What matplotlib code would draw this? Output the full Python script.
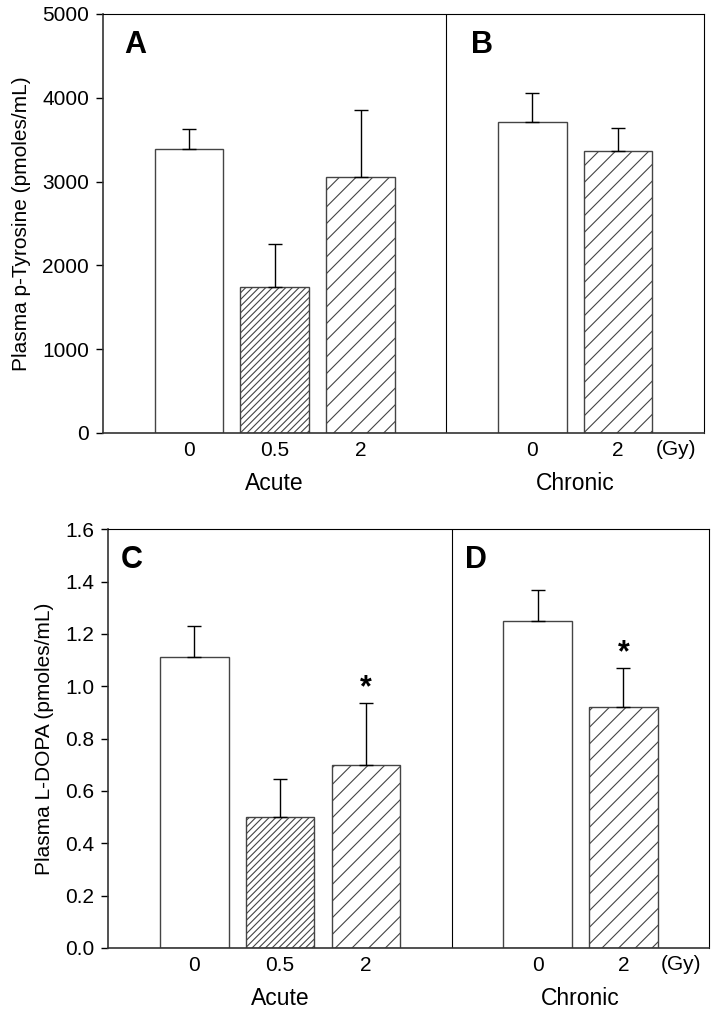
import matplotlib.pyplot as plt
import numpy as np

plt.rcParams['font.family'] = ['Liberation Sans', 'DejaVu Sans']
plt.rcParams['hatch.linewidth'] = 0.8
plt.rcParams['hatch.color'] = '#333333'

acute_doses = ['0', '0.5', '2']
chronic_doses = ['0', '2']
hatches = ['', '/////', '//', '', '//']

tyr_mean = [3390, 1740, 3060, 3710, 3365]
tyr_err = [240, 520, 790, 350, 270]

dopa_mean = [1.11, 0.50, 0.70, 1.25, 0.92]
dopa_err = [0.12, 0.145, 0.235, 0.117, 0.149]
dopa_star = [False, False, True, False, True]

pos = np.r_[np.arange(len(acute_doses)), len(acute_doses) + 1 + np.arange(len(chronic_doses))]
labels = acute_doses + chronic_doses

fig = plt.figure(figsize=(7.16, 10.14), dpi=100)
ax1 = fig.add_axes([0.1439, 0.5730, 0.8393, 0.4132])
ax2 = fig.add_axes([0.1513, 0.0652, 0.8394, 0.4128])


def panel(ax, mean, err, ylim, yticks, ylabel, letters, letter_x, stars=None, fmt='{:.0f}'):
    for i in range(len(pos)):
        ax.bar(pos[i], mean[i], width=0.8, color='white', edgecolor='#444444',
               linewidth=1.0, hatch=hatches[i], zorder=2)
        ax.errorbar(pos[i], mean[i], yerr=[[0], [err[i]]], color='black',
                    elinewidth=1.0, capsize=4.7, capthick=1.0, zorder=3)
        if stars is not None and stars[i]:
            ax.annotate('*', (pos[i], mean[i] + err[i]), xytext=(0, 0),
                        textcoords='offset points', ha='center', va='bottom',
                        fontsize=22, fontweight='bold')
    ax.set_xlim(-1, 6)
    ax.set_ylim(*ylim)
    ax.set_yticks(yticks)
    ax.set_yticklabels([fmt.format(v) for v in yticks])
    ax.set_xticks(pos)
    ax.set_xticklabels(labels)
    ax.tick_params(axis='x', length=0, pad=6, labelsize=15)
    ax.tick_params(axis='y', direction='out', length=5, width=1, pad=5, labelsize=15)
    ax.axvline(len(acute_doses), color='black', linewidth=0.8)
    for s in ['top', 'right']:
        ax.spines[s].set_linewidth(0.8)
    for s in ['left', 'bottom']:
        ax.spines[s].set_linewidth(1.2)
        ax.spines[s].set_color('#333333')
    ax.set_ylabel(ylabel, fontsize=15, labelpad=8)
    ax.text(5.67, -0.0405 * (ylim[1] - ylim[0]), '(Gy)', ha='center', va='center',
            fontsize=15)
    ax.text(1, -0.12 * (ylim[1] - ylim[0]), 'Acute', ha='center', va='center', fontsize=16.5)
    ax.text(4.5, -0.12 * (ylim[1] - ylim[0]), 'Chronic', ha='center', va='center', fontsize=16.5)
    for lx, letter in zip(letter_x, letters):
        ax.text(lx, 0.962, letter, transform=ax.transAxes, fontsize=22,
                fontweight='bold', va='top')


panel(ax1, tyr_mean, tyr_err, (0, 5000), np.arange(0, 5001, 1000),
      'Plasma p-Tyrosine (pmoles/mL)', 'AB', (0.035, 0.612))
panel(ax2, dopa_mean, dopa_err, (0, 1.6), np.arange(0, 1.61, 0.2),
      'Plasma L-DOPA (pmoles/mL)', 'CD', (0.02, 0.594), stars=dopa_star, fmt='{:.1f}')

fig.savefig('out.png', dpi=100)
